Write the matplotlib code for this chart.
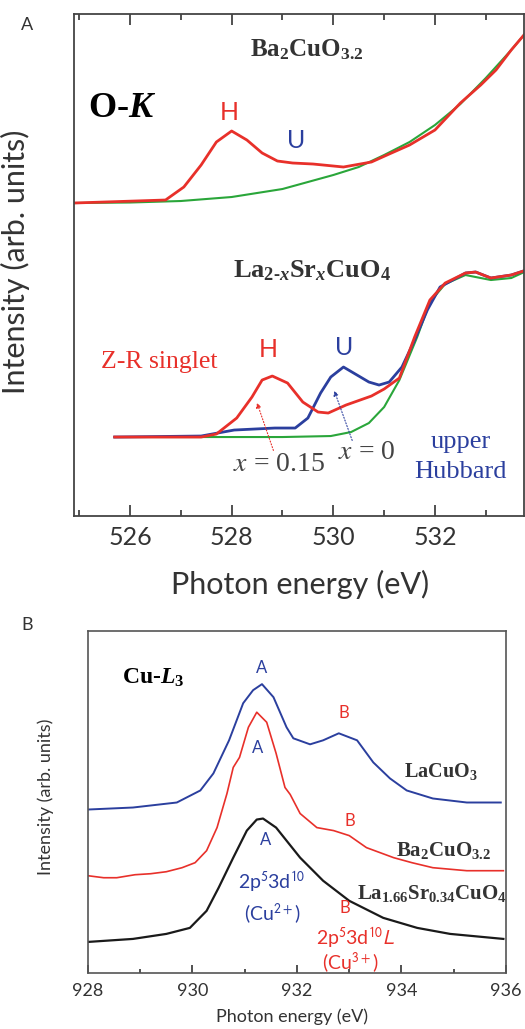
import matplotlib.pyplot as plt
import matplotlib as mpl

mpl.rcParams['mathtext.fontset'] = 'custom'
mpl.rcParams['mathtext.rm'] = 'Liberation Serif:bold'
mpl.rcParams['mathtext.it'] = 'Liberation Serif:bold:italic'
mpl.rcParams['mathtext.bf'] = 'Liberation Serif:bold'

RED = '#e8302a'
BLUE = '#2b3f9e'
GREEN = '#2aa63a'
DARK = '#333333'
SANS = 'Lato'

# ---- panel A: O-K edge ----
ba_e = [524.9, 526.7, 527.06, 527.4, 527.7, 528.0, 528.3, 528.6, 528.9, 529.2,
        529.6, 530.2, 530.75, 531.1, 531.5, 532.0, 532.5, 532.9, 533.2, 533.5, 533.75]
ba_i = [313, 316, 329, 351, 374, 385, 376, 363, 355, 353,
        352, 349, 354, 362, 371, 386, 413, 431, 446, 466, 481]
ba_bg_e = [524.9, 526.0, 527.0, 528.0, 529.0, 530.0, 530.5, 531.0, 531.5, 532.0,
           532.5, 533.0, 533.5, 533.8]
ba_bg_i = [313, 313.5, 315, 319, 327, 341, 349, 361, 374, 391, 412, 438, 466, 484]

lsco15_e = [525.7, 527.4, 527.7, 528.1, 528.4, 528.6, 528.8, 529.1, 529.4, 529.7,
            529.9, 530.25, 530.75, 531.0, 531.3, 531.6, 531.9, 532.2, 532.6, 532.8,
            533.1, 533.5, 533.8]
lsco15_i = [79, 79, 82, 98, 119, 136, 140, 133, 114, 104,
            103, 111, 120, 127, 138, 179, 216, 233, 243, 244,
            238, 241, 246]
lsco0_e = [525.7, 527.4, 528.05, 528.85, 529.25, 529.5, 529.75, 529.95, 530.2, 530.4,
           530.7, 530.9, 531.1, 531.35, 531.6, 531.85, 532.1, 532.6, 532.8, 533.1,
           533.5, 533.8]
lsco0_i = [79, 80, 86, 88, 88, 98, 123, 139, 149, 143,
           134, 131, 134, 149, 176, 206, 229, 243, 244, 238,
           241, 246]
lsco_bg_e = [525.7, 527.0, 529.0, 529.95, 530.35, 530.7, 531.0, 531.3, 531.65, 531.9,
             532.2, 532.6, 533.1, 533.5, 533.8]
lsco_bg_i = [79, 79, 79, 80, 84, 93, 109, 136, 179, 214,
             232, 241, 236, 238, 245]

a_ticks = [526, 528, 530, 532]

# ---- panel B: Cu-L3 edge ----
lacuo_e = [928.0, 928.86, 929.7, 930.15, 930.4, 930.7, 930.97, 931.16, 931.33, 931.55,
           931.8, 931.93, 932.25, 932.5, 932.8, 933.15, 933.46, 933.78, 934.1, 934.6,
           935.25, 935.9]
lacuo_i = [163, 165, 170, 182, 199, 232, 269, 282, 288, 275,
           245, 234, 228, 232, 239, 232, 210, 194, 182, 174,
           170, 170]
bacuo_e = [928.0, 928.3, 928.55, 928.9, 929.2, 929.5, 929.8, 930.05, 930.27, 930.47,
           930.66, 930.78, 930.9, 931.07, 931.23, 931.42, 931.6, 931.77, 931.87, 932.06,
           932.38, 932.7, 933.0, 933.33, 933.85, 934.2, 934.6, 935.25, 935.95]
bacuo_i = [97, 95, 95, 98, 99, 101, 105, 110, 122, 145,
           179, 205, 215, 245, 260, 250, 219, 185, 178, 159,
           145, 142, 137, 125, 115, 110, 105, 102, 102]
lsco34_e = [928.0, 928.86, 929.5, 929.95, 930.27, 930.5, 930.78, 931.04, 931.23, 931.35,
            931.6, 932.06, 932.5, 933.0, 933.65, 934.3, 934.93, 935.95]
lsco34_i = [31, 34, 39, 45, 62, 85, 115, 142, 153, 154,
            145, 115, 92, 72, 55, 45, 39, 34]

b_ticks = [928, 930, 932, 934, 936]

fig = plt.figure(figsize=(5.25, 10.29), dpi=100)

# ================= panel A =================
ax = fig.add_axes([0.141, 0.4985, 0.857, 0.4879])
ax.plot(ba_bg_e, ba_bg_i, color=GREEN, lw=1.5)
ax.plot(ba_e, ba_i, color=RED, lw=2.0)
ax.plot(lsco_bg_e, lsco_bg_i, color=GREEN, lw=1.5)
ax.plot(lsco0_e, lsco0_i, color=BLUE, lw=2.0)
ax.plot(lsco15_e, lsco15_i, color=RED, lw=2.0)
ax.set_xlim(524.9, 533.75)
ax.set_ylim(0, 502)
ax.set_xticks(a_ticks)
ax.set_xticks([525, 527, 529, 531, 533], minor=True)
ax.set_yticks([])
ax.tick_params(axis='x', which='both', direction='in', top=True, colors=DARK)
ax.tick_params(axis='x', which='major', length=8, width=1.2, labelsize=18, pad=7)
ax.tick_params(axis='x', which='minor', length=4, width=1.2)
for lab in ax.get_xticklabels():
    lab.set_family(SANS)
for s in ax.spines.values():
    s.set_color('#444444')
    s.set_linewidth(1.3)
ax.set_xlabel('Photon energy (eV)', fontsize=22, family=SANS, color=DARK)
ax.xaxis.set_label_coords(0.502, -0.108)
ax.set_ylabel('Intensity (arb. units)', fontsize=22, family=SANS, color=DARK)
ax.yaxis.set_label_coords(-0.098, 0.506)

ax.text(529.48, 466, r'$\mathrm{Ba}_2\mathrm{CuO}_{3.2}$', fontsize=18, ha='center', va='center',
        color=DARK, math_fontfamily='custom')
ax.text(525.17, 409, r'$\mathrm{O\text{-}}K$', fontsize=26, ha='left', va='center',
        color='black', math_fontfamily='custom')
ax.text(527.95, 404, 'H', fontsize=18, color=RED, family=SANS, ha='center', va='center')
ax.text(529.27, 376, 'U', fontsize=18, color=BLUE, family=SANS, ha='center', va='center')
ax.text(529.58, 246, r'$\mathrm{La}_{\mathrm{2\text{-}}x}\mathrm{Sr}_x\mathrm{CuO}_4$', fontsize=19,
        ha='center', va='center', color=DARK, math_fontfamily='custom')
ax.text(525.43, 154, 'Z-R singlet', fontsize=18.5, color=RED, family='Liberation Serif',
        ha='left', va='center')
ax.text(528.72, 167, 'H', fontsize=18, color=RED, family=SANS, ha='center', va='center')
ax.text(530.21, 169, 'U', fontsize=18, color=BLUE, family=SANS, ha='center', va='center')
ax.text(528.03, 52, r'$x$ = 0.15', fontsize=20, color='#444444', family='Liberation Serif',
        ha='left', va='center', math_fontfamily='stix')
ax.text(530.09, 64, r'$x$ = 0', fontsize=20, color='#444444', family='Liberation Serif',
        ha='left', va='center', math_fontfamily='stix')
ax.text(532.5, 74, 'upper', fontsize=19, color=BLUE, family='Liberation Serif',
        ha='center', va='center')
ax.text(532.5, 44, 'Hubbard', fontsize=19, color=BLUE, family='Liberation Serif',
        ha='center', va='center')
ax.annotate('', xy=(528.48, 116), xytext=(528.84, 63),
            arrowprops=dict(arrowstyle='-|>', color=RED, lw=0.8, ls=':', mutation_scale=7))
ax.annotate('', xy=(530.0, 128), xytext=(530.39, 73),
            arrowprops=dict(arrowstyle='-|>', color=BLUE, lw=0.8, ls=':', mutation_scale=7))

fig.text(27 / 525, 1 - 25 / 1029, 'A', fontsize=13, family=SANS, color=DARK, ha='center', va='center')
fig.text(27 / 525, 1 - 625 / 1029, 'B', fontsize=13, family=SANS, color=DARK, ha='center', va='center')

# ================= panel B =================
bx = fig.add_axes([0.1676, 0.0544, 0.7962, 0.3324])
bx.plot(lacuo_e, lacuo_i, color=BLUE, lw=1.4)
bx.plot(bacuo_e, bacuo_i, color=RED, lw=1.2)
bx.plot(lsco34_e, lsco34_i, color='#1a1a1a', lw=1.6)
bx.set_xlim(928, 936)
bx.set_ylim(0, 341)
bx.set_xticks(b_ticks)
bx.set_xticks([929, 931, 933, 935], minor=True)
bx.set_yticks([])
bx.tick_params(axis='x', which='both', direction='in', colors=DARK)
bx.tick_params(axis='x', which='major', length=6, width=1.2, labelsize=13, pad=7)
bx.tick_params(axis='x', which='minor', length=3, width=1.2)
for lab in bx.get_xticklabels():
    lab.set_family(SANS)
for s in bx.spines.values():
    s.set_color('#555555')
    s.set_linewidth(1.2)
bx.set_xlabel('Photon energy (eV)', fontsize=13, family=SANS, color=DARK)
bx.xaxis.set_label_coords(0.488, -0.105)
bx.set_ylabel('Intensity (arb. units)', fontsize=13, family=SANS, color=DARK)
bx.yaxis.set_label_coords(-0.081, 0.516)

bx.text(928.65, 295, r'$\mathrm{Cu\text{-}}L_3$', fontsize=17, ha='left', va='center',
        color='black', math_fontfamily='custom')
bx.text(931.33, 304, 'A', fontsize=12, color=BLUE, family=SANS, ha='center', va='center')
bx.text(932.9, 259, 'B', fontsize=12, color=RED, family=SANS, ha='center', va='center')
bx.text(931.25, 224, 'A', fontsize=12, color=BLUE, family=SANS, ha='center', va='center')
bx.text(934.76, 201, r'$\mathrm{LaCuO}_3$', fontsize=14.5, ha='center', va='center',
        color=DARK, math_fontfamily='custom')
bx.text(933.01, 152, 'B', fontsize=12, color=RED, family=SANS, ha='center', va='center')
bx.text(934.81, 122, r'$\mathrm{Ba}_2\mathrm{CuO}_{3.2}$', fontsize=15, ha='center', va='center',
        color=DARK, math_fontfamily='custom')
bx.text(931.39, 133, 'A', fontsize=12, color=BLUE, family=SANS, ha='center', va='center')
bx.text(934.58, 79, r'$\mathrm{La}_{1.66}\mathrm{Sr}_{0.34}\mathrm{CuO}_4$', fontsize=15,
        ha='center', va='center', color=DARK, math_fontfamily='custom')
bx.text(931.52, 90, r'2p$^5$3d$^{10}$', fontsize=14, color=BLUE, family=SANS,
        ha='center', va='center', math_fontfamily='stixsans')
bx.text(931.52, 59, r'(Cu$^{2+}$)', fontsize=14, color=BLUE, family=SANS,
        ha='center', va='center', math_fontfamily='stixsans')
bx.text(932.92, 65, 'B', fontsize=12, color=RED, family=SANS, ha='center', va='center')
bx.text(933.13, 34, r'2p$^5$3d$^{10}$$\it{L}$', fontsize=14, color=RED, family=SANS,
        ha='center', va='center', math_fontfamily='stixsans')
bx.text(933.01, 10, r'(Cu$^{3+}$)', fontsize=14, color=RED, family=SANS,
        ha='center', va='center', math_fontfamily='stixsans')

fig.savefig('out.png', dpi=100)
